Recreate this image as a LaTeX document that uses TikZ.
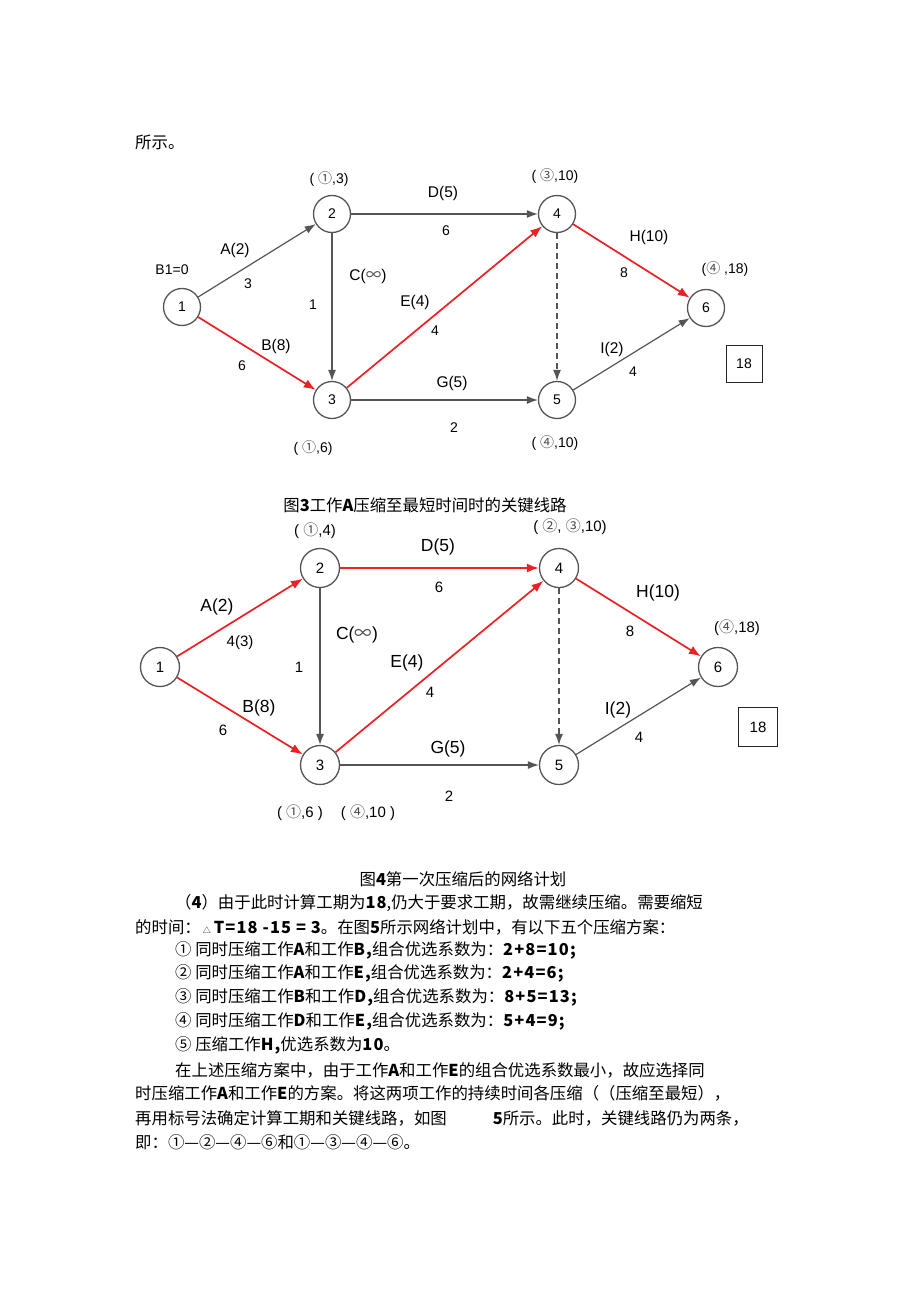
\documentclass[tikz,border=0pt]{standalone}
\usepackage{fontspec}
\setmainfont{Liberation Sans}
\newfontfamily\cjk{Noto Sans CJK SC}
\usetikzlibrary{arrows.meta}

\definecolor{edgegray}{RGB}{85,85,85}
\definecolor{critred}{RGB}{238,32,36}
\newcommand{\cn}[1]{{\cjk\color{black!70}#1}}
\newcommand{\bd}[1]{{\bfseries\addfontfeature{LetterSpace=7}#1}}

\tikzset{
  evt/.style={circle, draw=edgegray, line width=1.3pt, minimum size=37pt, inner sep=0pt, font=\fontsize{14}{16}\selectfont},
  evtb/.style={evt, minimum size=39pt, font=\fontsize{15}{17}\selectfont},
  act/.style={draw=edgegray, line width=1.2pt, -{Latex[length=11pt,width=8pt]}},
  crit/.style={draw=critred, line width=1.7pt, -{Latex[length=12pt,width=9pt]}},
  dum/.style={act, dash pattern=on 6pt off 4pt},
  lbl/.style={inner sep=0pt, font=\fontsize{15.5}{18}\selectfont},
  lblb/.style={inner sep=0pt, font=\fontsize{17.5}{20}\selectfont},
  num/.style={inner sep=0pt, font=\fontsize{14}{16}\selectfont},
  numb/.style={inner sep=0pt, font=\fontsize{15}{17}\selectfont},
  totbox/.style={draw=black!85, line width=1pt, inner sep=0pt},
  txt/.style={anchor=west, inner sep=0pt, font=\cjk\fontsize{16.4}{19}\selectfont},
  figcap/.style={inner sep=0pt, font=\cjk\fontsize{16.4}{19}\selectfont},
}

\begin{document}
\begin{tikzpicture}[x=1pt,y=-1pt]
\useasboundingbox [fill=white] (0,0) rectangle (920,1303);
\node[txt] (top) at (135,142) {所示。};

% first network (work A compressed)
\node[evt] (p1) at (182,307) {1};
\node[evt] (p2) at (332,214) {2};
\node[evt] (p3) at (332,400) {3};
\node[evt] (p4) at (557,214) {4};
\node[evt] (p5) at (557,400) {5};
\node[evt] (p6) at (706,308) {6};
\draw [act]  (p1) -- (p2);
\draw [crit] (p1) -- (p3);
\draw [act]  (p2) -- (p3);
\draw [act]  (p2) -- (p4);
\draw [crit] (p3) -- (p4);
\draw [act]  (p3) -- (p5);
\draw [dum]  (p4) -- (p5);
\draw [crit] (p4) -- (p6);
\draw [act]  (p5) -- (p6);
\node[totbox, minimum width=36pt, minimum height=37pt, num] (t1) at (744,364) {18};

\node[num] (p2tag) at (329,179) {( \cn{①},3)};
\node[num] (p3tag) at (313,448) {( \cn{①},6)};
\node[num] (p4tag) at (555,176) {( \cn{③},10)};
\node[num] (p5tag) at (555,443) {( \cn{④},10)};
\node[num] (p6tag) at (725,269) {(\cn{④} ,18)};
\node[num] (p1tag) at (172,270) {B1=0};
\node[lbl] (pA) at (235,250) {A(2)};  \node[num] (pAt) at (248,284) {3};
\node[lbl] (pB) at (276,346) {B(8)};  \node[num] (pBt) at (242,366) {6};
\node[lbl] (pC) at (368,276) {C(\cn{∞})}; \node[num] (pCt) at (313,305) {1};
\node[lbl] (pD) at (443,193) {D(5)};  \node[num] (pDt) at (446,231) {6};
\node[lbl] (pE) at (415,302) {E(4)};  \node[num] (pEt) at (435,331) {4};
\node[lbl] (pG) at (452,383) {G(5)};  \node[num] (pGt) at (454,428) {2};
\node[lbl] (pH) at (649,237) {H(10)}; \node[num] (pHt) at (624,273) {8};
\node[lbl] (pI) at (612,349) {I(2)};  \node[num] (pIt) at (633,372) {4};

\node[figcap] (cap3) at (425,505) {图\bd{3}工作\bd{A}压缩至最短时间时的关键线路};

% second network (after first compression)
\node[evtb] (q1) at (160,667) {1};
\node[evtb] (q2) at (320,568) {2};
\node[evtb] (q3) at (320,765) {3};
\node[evtb] (q4) at (559,568) {4};
\node[evtb] (q5) at (559,765) {5};
\node[evtb] (q6) at (718,667) {6};
\draw [crit] (q1) -- (q2);
\draw [crit] (q1) -- (q3);
\draw [act]  (q2) -- (q3);
\draw [crit] (q2) -- (q4);
\draw [crit] (q3) -- (q4);
\draw [act]  (q3) -- (q5);
\draw [dum]  (q4) -- (q5);
\draw [crit] (q4) -- (q6);
\draw [act]  (q5) -- (q6);
\node[totbox, minimum width=39pt, minimum height=39pt, numb] (t2) at (758,727) {18};

\node[numb] (q2tag) at (315,531) {( \cn{①},4)};
\node[numb] (q3tag) at (300,813) {( \cn{①},6 )};
\node[numb] (q3tagb) at (368,813) {( \cn{④},10 )};
\node[numb] (q4tag) at (570,527) {( \cn{②}, \cn{③},10)};
\node[numb] (q6tag) at (737,628) {(\cn{④},18)};
\node[lblb] (qA) at (217,607) {A(2)};  \node[numb] (qAt) at (240,643) {4(3)};
\node[lblb] (qB) at (259,708) {B(8)};  \node[numb] (qBt) at (223,730) {6};
\node[lblb] (qC) at (357,635) {C(\cn{∞})}; \node[numb] (qCt) at (299,667) {1};
\node[lblb] (qD) at (438,547) {D(5)};  \node[numb] (qDt) at (439,587) {6};
\node[lblb] (qE) at (407,663) {E(4)};  \node[numb] (qEt) at (430,692) {4};
\node[lblb] (qG) at (448,749) {G(5)};  \node[numb] (qGt) at (449,796) {2};
\node[lblb] (qH) at (658,593) {H(10)}; \node[numb] (qHt) at (630,631) {8};
\node[lblb] (qI) at (618,710) {I(2)};  \node[numb] (qIt) at (639,737) {4};

\node[figcap] (cap4) at (463,879) {图\bd{4}第一次压缩后的网络计划};

% text below
\node[txt] (l1) at (175,903) {（\bd{4}）由于此时计算工期为\bd{18},仍大于要求工期，故需继续压缩。需要缩短};
\node[txt] (l2) at (135,927) {的时间：\hspace{2pt}{\fontsize{8}{8}\selectfont △}\hspace{3pt}\bd{T=18 -15 = 3}。在图\bd{5}所示网络计划中，有以下五个压缩方案：};
\node[txt] (l3) at (175,950) {①\ 同时压缩工作\bd{A}和工作\bd{B,}组合优选系数为：\bd{2+8=10;}};
\node[txt] (l4) at (175,973) {②\ 同时压缩工作\bd{A}和工作\bd{E,}组合优选系数为：\bd{2+4=6;}};
\node[txt] (l5) at (175,997) {③\ 同时压缩工作\bd{B}和工作\bd{D,}组合优选系数为：\bd{8+5=13;}};
\node[txt] (l6) at (175,1021) {④\ 同时压缩工作\bd{D}和工作\bd{E,}组合优选系数为：\bd{5+4=9;}};
\node[txt] (l7) at (175,1045) {⑤\ 压缩工作\bd{H,}优选系数为\bd{10}。};
\node[txt] (l8) at (175,1070) {在上述压缩方案中，由于工作\bd{A}和工作\bd{E}的组合优选系数最小，故应选择同};
\node[txt] (l9) at (135,1093) {时压缩工作\bd{A}和工作\bd{E}的方案。将这两项工作的持续时间各压缩（（压缩至最短），};
\node[txt] (l10) at (135,1118) {再用标号法确定计算工期和关键线路，如图\hspace{46pt}\bd{5}所示。此时，关键线路仍为两条，};
\node[txt] (l11) at (135,1142) {即：①—②—④—⑥和①—③—④—⑥。};
\end{tikzpicture}
\end{document}
